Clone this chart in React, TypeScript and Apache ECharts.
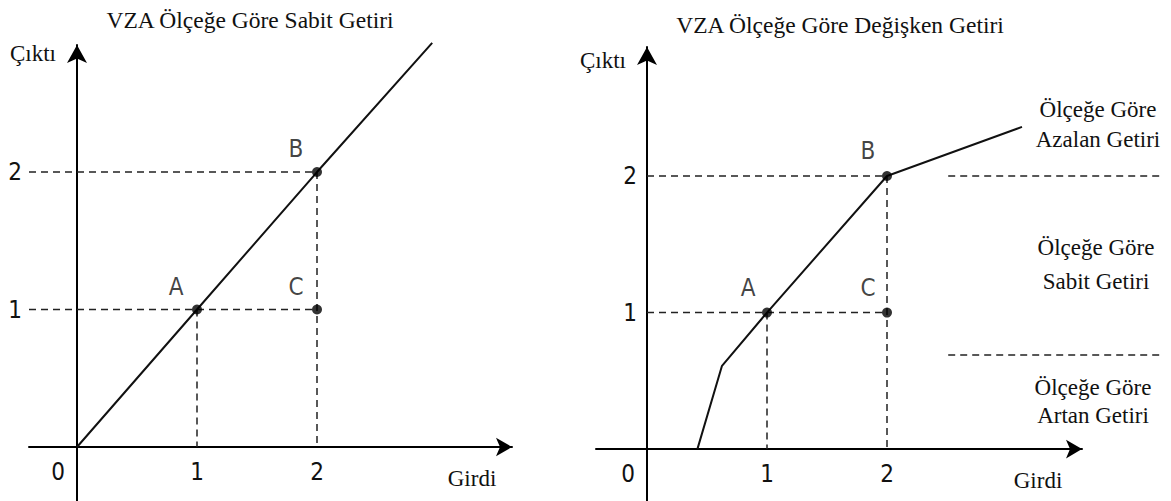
import React, { useEffect, useRef } from "react";
import * as echarts from "echarts";

// ---- data ----
const pointNames = ["A", "B", "C"];
const pointX = [1, 2, 2];
const pointY = [1, 2, 1];
const xTicks = [0, 1, 2];
const yTicks = [1, 2];
const leftFrontierX = [0, 1, 2, 2.96];
const leftFrontierY = [0, 1, 2, 2.94];
const rightFrontierX = [0.42, 0.625, 1, 2, 3.125];
const rightFrontierY = [0, 0.61, 1, 2, 2.36];
const separatorLevels = [2, 0.69];
const separatorFrom = 2.51;
const separatorTo = 4.27;
const titles = ["VZA Ölçeğe Göre Sabit Getiri", "VZA Ölçeğe Göre Değişken Getiri"];
const regionLabels = [
  "Ölçeğe Göre\nAzalan Getiri",
  "Ölçeğe Göre\nSabit Getiri",
  "Ölçeğe Göre\nArtan Getiri",
];
const yName = "Çıktı";
const xName = "Girdi";

const SERIF = "Liberation Serif, serif";
const NARROW = "Liberation Sans Narrow, DejaVu Sans Condensed, Liberation Sans, sans-serif";
const INK = "#111";

function zip(xs: number[], ys: number[]) {
  return xs.map((x, i) => [x, ys[i]]);
}

const dash = { color: "#222", width: 1.5, type: [7, 5] };

function buildPanel(idx: number, guideStart: number, labelOffset: number[]) {
  const series: any[] = [];
  const frontier =
    idx === 0 ? zip(leftFrontierX, leftFrontierY) : zip(rightFrontierX, rightFrontierY);
  series.push({
    type: "line",
    xAxisIndex: idx,
    yAxisIndex: idx,
    data: frontier,
    symbol: "none",
    clip: false,
    lineStyle: { color: INK, width: 2 },
    z: 3,
  });
  yTicks.forEach((lvl) => {
    const xs = pointX.filter((_, i) => pointY[i] === lvl);
    const xEnd = Math.max(...xs);
    series.push({
      type: "line",
      xAxisIndex: idx,
      yAxisIndex: idx,
      data: [
        [guideStart, lvl],
        [xEnd, lvl],
      ],
      symbol: "none",
      clip: false,
      lineStyle: dash,
      z: 2,
    });
  });
  xTicks
    .filter((t) => t > 0)
    .forEach((t) => {
      const ys = pointY.filter((_, i) => pointX[i] === t);
      const yTop = Math.max(...ys);
      series.push({
        type: "line",
        xAxisIndex: idx,
        yAxisIndex: idx,
        data: [
          [t, yTop],
          [t, 0],
        ],
        symbol: "none",
        clip: false,
        lineStyle: dash,
        z: 2,
      });
    });
  series.push({
    type: "scatter",
    xAxisIndex: idx,
    yAxisIndex: idx,
    data: pointNames.map((n, i) => ({ name: n, value: [pointX[i], pointY[i]] })),
    symbol: "circle",
    symbolSize: 10,
    itemStyle: { color: "#000" },
    clip: false,
    z: 4,
    label: {
      show: true,
      position: "inside",
      offset: labelOffset,
      formatter: (p: any) => p.name,
      fontFamily: NARROW,
      fontSize: 24,
      color: INK,
    },
  });
  return series;
}

function separatorSeries() {
  // drawn on a hidden grid sharing the right panel's scale, extended to the right
  return separatorLevels.map((lvl) => ({
    type: "line",
    xAxisIndex: 2,
    yAxisIndex: 2,
    data: [
      [separatorFrom, lvl],
      [separatorTo, lvl],
    ],
    symbol: "none",
    clip: false,
    lineStyle: dash,
    z: 2,
  }));
}

function axisX(min: number, max: number, margin: number) {
  return {
    type: "value",
    min,
    max,
    axisLine: {
      onZero: true,
      symbol: ["none", "arrow"],
      symbolSize: [14, 16],
      lineStyle: { color: "#000", width: 2 },
    },
    axisTick: { show: false },
    splitLine: { show: false },
    axisLabel: {
      customValues: xTicks,
      margin,
      fontFamily: NARROW,
      fontSize: 24,
      color: INK,
      formatter: (v: number) => (v === 0 ? "{z|0}" : "{n|" + v + "}"),
      rich: {
        z: { fontFamily: NARROW, fontSize: 24, color: INK, padding: [0, 38, 0, 0] },
        n: { fontFamily: NARROW, fontSize: 24, color: INK },
      },
    },
  };
}

function axisY(min: number, max: number, margin: number) {
  return {
    type: "value",
    min,
    max,
    axisLine: {
      onZero: true,
      symbol: ["none", "arrow"],
      symbolSize: [15, 18],
      lineStyle: { color: "#000", width: 2 },
    },
    axisTick: { show: false },
    splitLine: { show: false },
    axisLabel: {
      customValues: yTicks,
      margin,
      fontFamily: NARROW,
      fontSize: 24,
      color: INK,
      formatter: (v: number) => "{n|" + v + "}",
      rich: {
        n: { fontFamily: NARROW, fontSize: 24, color: INK },
      },
    },
  };
}

function txt(text: string, x: number, y: number, extra: any = {}) {
  return {
    type: "text",
    x,
    y,
    style: {
      text,
      fontFamily: SERIF,
      fontSize: 23,
      fill: INK,
      align: "center",
      verticalAlign: "middle",
      ...extra,
    },
  };
}

export default function App() {
  const ref = useRef<HTMLDivElement>(null);
  useEffect(() => {
    if (!ref.current) return;
    const chart = echarts.init(ref.current, undefined, { renderer: "svg" });
    const option: any = {
      animation: false,
      backgroundColor: "#fff",
      grid: [
        { left: 29, top: 45, width: 483, height: 457, outerBoundsMode: "none" },
        { left: 596, top: 47, width: 486, height: 454, outerBoundsMode: "none" },
        { left: 596, top: 47, width: 570, height: 454, outerBoundsMode: "none" },
      ],
      xAxis: [
        { ...axisX(-0.4, 3.625, -42), gridIndex: 0 },
        { ...axisX(-0.425, 3.625, -39), gridIndex: 1 },
        { type: "value", gridIndex: 2, min: -0.425, max: 4.325, show: false, splitLine: { show: false } },
      ],
      yAxis: [
        { ...axisY(-0.4, 2.924, 7), gridIndex: 0 },
        { ...axisY(-0.38, 2.945, -41), gridIndex: 1 },
        { type: "value", gridIndex: 2, min: -0.38, max: 2.945, show: false, splitLine: { show: false } },
      ],
      series: [
        ...buildPanel(0, -0.4, [-21, -23]),
        ...buildPanel(1, 0, [-19, -25]),
        ...separatorSeries(),
      ],
      graphic: [
        txt(titles[0], 250, 20, { fontSize: 23.5 }),
        txt(titles[1], 840, 25, { fontSize: 23.5 }),
        txt(yName, 33, 53),
        txt(yName, 603, 60),
        txt(xName, 472, 478),
        txt(xName, 1038, 480),
        txt(regionLabels[0], 1098, 124, { lineHeight: 30 }),
        txt(regionLabels[1], 1096, 264, { lineHeight: 34 }),
        txt(regionLabels[2], 1093, 401, { lineHeight: 28 }),
      ],
    };
    chart.setOption(option);
    return () => chart.dispose();
  }, []);
  return (
    <div
      ref={ref}
      style={{ position: "absolute", left: 0, top: 0, width: 1171, height: 501 }}
    />
  );
}
